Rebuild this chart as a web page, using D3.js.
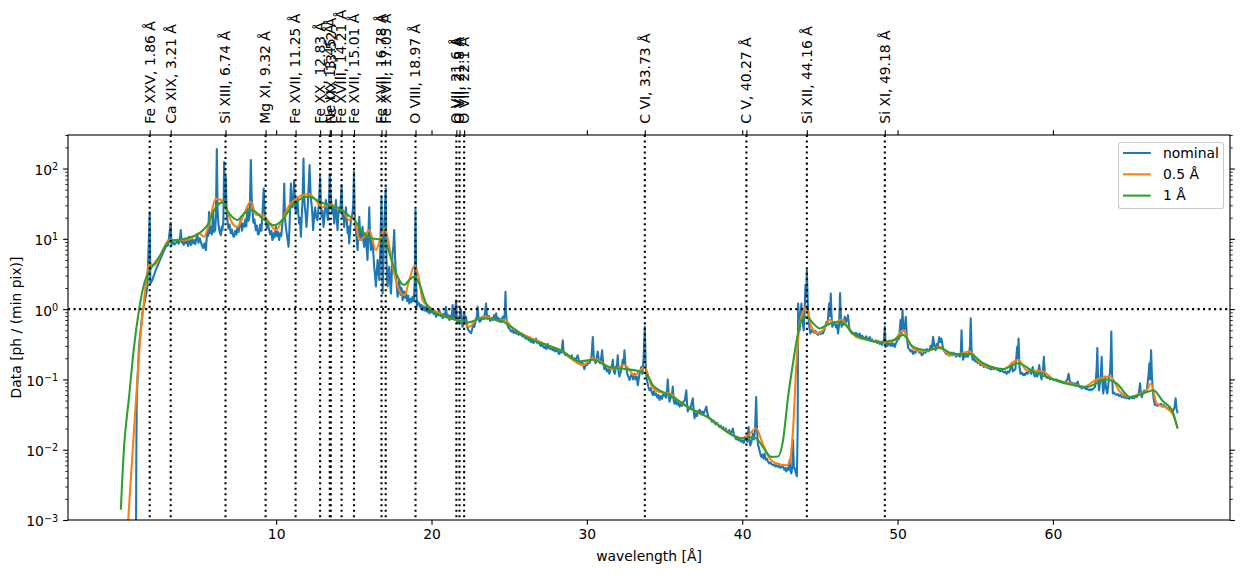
<!DOCTYPE html>
<html>
<head>
<meta charset="utf-8">
<script src="https://cdn.jsdelivr.net/npm/d3@7"></script>
<style>
    body { margin: 0; background: #fff; }
    svg text { font-family: "DejaVu Sans", sans-serif; fill: #000; }
</style>
</head>
<body>
<div id="chart"></div>
<script>
// Spectrum at nominal resolution: [wavelength (Å), counts]
const nominal = [
    [0.98, 0.0008], [1.00, 0.01], [1.03, 0.056], [1.17, 0.29], [1.39, 0.87], [1.60, 1.5], [1.71, 2.1], [1.86, 24], [1.90, 2.3], [2.03, 2.6],
    [2.25, 3.6], [2.57, 5.3], [2.89, 7.7], [3.05, 8.2], [3.21, 17], [3.26, 8.1], [3.35, 9.0], [3.45, 8.3], [3.54, 8.7], [3.63, 9.4],
    [3.72, 8.5], [3.80, 9.8], [3.86, 13.3], [3.92, 8.9], [3.96, 9.1], [4.05, 8.2], [4.12, 9.5], [4.18, 8.7], [4.27, 9.3], [4.33, 7.9],
    [4.39, 10.7], [4.45, 9.0], [4.50, 8.1], [4.58, 9.9], [4.65, 8.6], [4.72, 9.6], [4.80, 8.4], [4.87, 10.5], [4.93, 11.3], [5.00, 8.8],
    [5.08, 10.2], [5.15, 9.1], [5.22, 8.0], [5.30, 7.4], [5.38, 8.6], [5.47, 6.9], [5.52, 9.5], [5.57, 13.3], [5.62, 11], [5.68, 24],
    [5.74, 12], [5.79, 14.7], [5.86, 11.5], [5.94, 24], [6.00, 12.5], [6.07, 13.3], [6.12, 20], [6.18, 190], [6.23, 25], [6.28, 16.5],
    [6.36, 12.5], [6.44, 11.3], [6.50, 15], [6.54, 13.3], [6.60, 18], [6.65, 124], [6.71, 35], [6.76, 76], [6.81, 25], [6.86, 18.5],
    [6.93, 14], [7.00, 16], [7.08, 12], [7.15, 13.5], [7.22, 11], [7.29, 10.7], [7.36, 13], [7.44, 11.5], [7.51, 14.8], [7.58, 12.5],
    [7.65, 16], [7.72, 18.5], [7.80, 13], [7.87, 16.5], [7.94, 14.8], [8.02, 19], [8.08, 15], [8.15, 28], [8.22, 18], [8.30, 22],
    [8.37, 132], [8.42, 40], [8.47, 28], [8.53, 17], [8.60, 19], [8.69, 13.3], [8.76, 15.5], [8.83, 11.5], [8.90, 12], [8.97, 16],
    [9.05, 13], [9.12, 23], [9.20, 52], [9.27, 22], [9.34, 18.5], [9.40, 14], [9.48, 16], [9.55, 13.3], [9.62, 11.5], [9.69, 13],
    [9.76, 9.6], [9.83, 12], [9.90, 10.5], [9.98, 14.8], [10.05, 11], [10.12, 12.5], [10.19, 9.6], [10.26, 12], [10.33, 11], [10.40, 16.5],
    [10.46, 20], [10.52, 61], [10.57, 20], [10.62, 14.8], [10.70, 11], [10.76, 9], [10.80, 7.7], [10.86, 15], [10.95, 61], [11.00, 30],
    [11.05, 28], [11.10, 35], [11.16, 68], [11.22, 30], [11.27, 23], [11.32, 28], [11.37, 37], [11.43, 22], [11.48, 16.5], [11.53, 20],
    [11.59, 10.7], [11.65, 22], [11.70, 35.5], [11.76, 139], [11.80, 40], [11.85, 28], [11.90, 22], [11.95, 14.8], [12.02, 25], [12.08, 49],
    [12.15, 112], [12.22, 40], [12.30, 28], [12.34, 20], [12.38, 13.3], [12.45, 22], [12.51, 28], [12.58, 20], [12.66, 18.5], [12.74, 30],
    [12.83, 76], [12.88, 30], [12.92, 20.5], [12.98, 25], [13.05, 14.8], [13.12, 22], [13.20, 35.5], [13.27, 24], [13.33, 18.5], [13.39, 28],
    [13.45, 80], [13.52, 40], [13.59, 23], [13.66, 28], [13.74, 16.5], [13.80, 24], [13.85, 35.5], [13.90, 20], [13.95, 13.3], [14.00, 22],
    [14.06, 28], [14.13, 24], [14.21, 58], [14.27, 20.5], [14.33, 24], [14.38, 14.8], [14.44, 20], [14.49, 28], [14.55, 18], [14.60, 12],
    [14.65, 15], [14.70, 8.6], [14.76, 13], [14.81, 18.5], [14.90, 22], [14.96, 30], [15.01, 90], [15.05, 25], [15.09, 16.5], [15.16, 11],
    [15.24, 6.9], [15.30, 12], [15.35, 20.5], [15.40, 12], [15.46, 9.6], [15.51, 12], [15.56, 14.8], [15.62, 9], [15.67, 7.7], [15.72, 10],
    [15.78, 12], [15.83, 7], [15.88, 5.0], [15.94, 12], [15.99, 28], [16.05, 10], [16.10, 6.9], [16.15, 8], [16.20, 9.6], [16.26, 6],
    [16.31, 4.0], [16.37, 3], [16.42, 2.1], [16.48, 3.5], [16.53, 5.0], [16.58, 3.5], [16.64, 2.6], [16.71, 8], [16.78, 40], [16.85, 1.67],
    [16.90, 4], [16.96, 16.5], [17.05, 52], [17.10, 5], [17.17, 2.1], [17.22, 3], [17.28, 4.0], [17.33, 2.5], [17.39, 1.67], [17.44, 3],
    [17.49, 6.2], [17.55, 8], [17.60, 13.3], [17.66, 5], [17.71, 3.2], [17.77, 2], [17.82, 1.5], [17.87, 2], [17.92, 2.6], [18.00, 1.6],
    [18.07, 2.0], [18.14, 1.34], [18.22, 1.8], [18.29, 1.45], [18.36, 1.67], [18.43, 1.3], [18.50, 1.55], [18.57, 1.2], [18.64, 1.4], [18.71, 1.25],
    [18.78, 1.5], [18.86, 1.3], [18.92, 2.5], [18.97, 25.6], [19.02, 2], [19.07, 1.08], [19.14, 1.25], [19.21, 1.2], [19.29, 1.05], [19.36, 1.15],
    [19.43, 0.97], [19.50, 1.1], [19.58, 0.95], [19.65, 1.08], [19.72, 0.92], [19.79, 1.0], [19.86, 0.87], [19.93, 1.0], [20.00, 0.9], [20.07, 0.97],
    [20.14, 0.85], [20.22, 0.92], [20.29, 0.78], [20.36, 0.9], [20.43, 0.82], [20.50, 0.97], [20.58, 0.8], [20.65, 0.86], [20.72, 0.74], [20.79, 0.85],
    [20.86, 0.78], [20.93, 1.08], [21.00, 0.76], [21.08, 0.82], [21.15, 0.70], [21.22, 0.8], [21.29, 0.72], [21.36, 1.14], [21.44, 0.72], [21.51, 0.8],
    [21.58, 1.34], [21.63, 0.75], [21.68, 0.63], [21.75, 0.72], [21.82, 0.8], [21.90, 0.97], [21.95, 0.65], [22.00, 0.56], [22.06, 0.7], [22.11, 0.9],
    [22.16, 0.65], [22.22, 0.78], [22.30, 0.55], [22.38, 0.5], [22.46, 0.48], [22.55, 0.45], [22.62, 0.52], [22.69, 0.6], [22.76, 0.56], [22.85, 0.7],
    [22.92, 0.8], [22.97, 1.08], [23.03, 0.72], [23.10, 0.66], [23.19, 0.70], [23.27, 0.78], [23.35, 0.72], [23.43, 0.85], [23.51, 1.2], [23.57, 0.8],
    [23.62, 0.74], [23.70, 0.8], [23.78, 0.68], [23.86, 0.75], [23.94, 0.70], [24.02, 0.82], [24.09, 0.7], [24.16, 0.87], [24.23, 0.68], [24.30, 0.75],
    [24.37, 0.66], [24.44, 0.72], [24.51, 0.65], [24.58, 0.78], [24.66, 0.7], [24.72, 0.9], [24.76, 1.76], [24.81, 0.8], [24.86, 0.63], [24.94, 0.55],
    [25.03, 0.52], [25.12, 0.48], [25.20, 0.5], [25.28, 0.46], [25.36, 0.49], [25.44, 0.45], [25.52, 0.47], [25.60, 0.43], [25.68, 0.46], [25.77, 0.43],
    [25.85, 0.41], [25.93, 0.43], [26.01, 0.39], [26.09, 0.38], [26.17, 0.4], [26.25, 0.36], [26.33, 0.37], [26.41, 0.34], [26.49, 0.36], [26.57, 0.33],
    [26.65, 0.35], [26.73, 0.38], [26.80, 0.33], [26.88, 0.35], [26.95, 0.32], [27.03, 0.3], [27.11, 0.32], [27.19, 0.29], [27.27, 0.28], [27.35, 0.3],
    [27.41, 0.27], [27.48, 0.32], [27.56, 0.28], [27.64, 0.27], [27.72, 0.28], [27.80, 0.26], [27.88, 0.27], [27.96, 0.25], [28.05, 0.26], [28.13, 0.25],
    [28.21, 0.23], [28.29, 0.25], [28.37, 0.24], [28.45, 0.36], [28.50, 0.25], [28.56, 0.23], [28.64, 0.22], [28.72, 0.23], [28.80, 0.21], [28.88, 0.21],
    [28.95, 0.2], [29.02, 0.22], [29.09, 0.19], [29.17, 0.2], [29.25, 0.19], [29.33, 0.2], [29.41, 0.22], [29.50, 0.18], [29.60, 0.17], [29.68, 0.18],
    [29.76, 0.16], [29.84, 0.14], [29.92, 0.165], [30.00, 0.16], [30.08, 0.17], [30.17, 0.17], [30.24, 0.19], [30.30, 0.21], [30.38, 0.40], [30.44, 0.22],
    [30.49, 0.19], [30.56, 0.17], [30.63, 0.2], [30.70, 0.25], [30.77, 0.18], [30.85, 0.17], [30.92, 0.2], [30.98, 0.26], [31.05, 0.17], [31.13, 0.14],
    [31.21, 0.15], [31.29, 0.13], [31.37, 0.14], [31.45, 0.12], [31.52, 0.14], [31.60, 0.15], [31.67, 0.19], [31.74, 0.13], [31.80, 0.12], [31.87, 0.15],
    [31.94, 0.16], [31.99, 0.22], [32.04, 0.13], [32.10, 0.11], [32.18, 0.13], [32.25, 0.15], [32.31, 0.19], [32.37, 0.17], [32.42, 0.26], [32.48, 0.16],
    [32.53, 0.15], [32.60, 0.12], [32.67, 0.11], [32.74, 0.098], [32.82, 0.11], [32.90, 0.12], [32.98, 0.1], [33.07, 0.12], [33.14, 0.1], [33.21, 0.11],
    [33.28, 0.083], [33.36, 0.11], [33.43, 0.13], [33.50, 0.15], [33.57, 0.12], [33.65, 0.2], [33.73, 0.56], [33.79, 0.15], [33.86, 0.098], [33.95, 0.08],
    [34.03, 0.07], [34.12, 0.075], [34.18, 0.065], [34.25, 0.06], [34.32, 0.068], [34.39, 0.06], [34.46, 0.063], [34.54, 0.055], [34.61, 0.06], [34.68, 0.051],
    [34.76, 0.058], [34.84, 0.053], [34.92, 0.062], [35.00, 0.06], [35.10, 0.055], [35.16, 0.07], [35.21, 0.10], [35.27, 0.06], [35.32, 0.048], [35.40, 0.055],
    [35.47, 0.06], [35.53, 0.079], [35.59, 0.05], [35.64, 0.045], [35.72, 0.05], [35.80, 0.044], [35.88, 0.047], [35.97, 0.041], [36.05, 0.045], [36.13, 0.042],
    [36.21, 0.048], [36.30, 0.05], [36.40, 0.07], [36.45, 0.045], [36.50, 0.035], [36.58, 0.04], [36.66, 0.038], [36.74, 0.045], [36.82, 0.054], [36.88, 0.035],
    [36.93, 0.028], [37.00, 0.033], [37.08, 0.03], [37.17, 0.035], [37.26, 0.037], [37.34, 0.032], [37.42, 0.035], [37.52, 0.033], [37.60, 0.036], [37.69, 0.041],
    [37.77, 0.032], [37.84, 0.029], [37.90, 0.028], [37.98, 0.027], [38.06, 0.025], [38.14, 0.026], [38.22, 0.024], [38.30, 0.023], [38.38, 0.024], [38.46, 0.022],
    [38.54, 0.021], [38.62, 0.022], [38.70, 0.02], [38.78, 0.021], [38.86, 0.019], [38.94, 0.02], [39.01, 0.018], [39.08, 0.018], [39.16, 0.019], [39.24, 0.017],
    [39.32, 0.018], [39.40, 0.02], [39.47, 0.016], [39.54, 0.015], [39.62, 0.014], [39.70, 0.015], [39.78, 0.0135], [39.86, 0.014], [39.94, 0.013], [40.02, 0.0135],
    [40.10, 0.0125], [40.18, 0.014], [40.26, 0.015], [40.33, 0.013], [40.41, 0.021], [40.46, 0.014], [40.52, 0.0115], [40.60, 0.013], [40.69, 0.017], [40.76, 0.014],
    [40.83, 0.02], [40.90, 0.056], [40.95, 0.02], [41.01, 0.012], [41.08, 0.0105], [41.15, 0.009], [41.23, 0.0079], [41.30, 0.0085], [41.37, 0.0075], [41.44, 0.0088],
    [41.51, 0.0072], [41.58, 0.0075], [41.66, 0.0068], [41.74, 0.0064], [41.82, 0.0066], [41.90, 0.0062], [41.98, 0.006], [42.06, 0.0062], [42.14, 0.0058], [42.22, 0.006],
    [42.30, 0.0057], [42.38, 0.0059], [42.46, 0.0055], [42.54, 0.0058], [42.63, 0.0057], [42.70, 0.0052], [42.77, 0.0055], [42.84, 0.0049], [42.92, 0.0055], [42.99, 0.0052],
    [43.05, 0.0071], [43.10, 0.0052], [43.16, 0.0046], [43.22, 0.0055], [43.27, 0.0137], [43.33, 0.0055], [43.38, 0.0055], [43.45, 0.0047], [43.52, 0.0042], [43.57, 0.02],
    [43.60, 1.2], [43.65, 0.8], [43.70, 0.50], [43.76, 0.8], [43.81, 1.2], [43.88, 0.7], [43.96, 0.5], [44.02, 1.0], [44.07, 2.2], [44.12, 1.5],
    [44.16, 3.6], [44.22, 1.2], [44.28, 0.7], [44.34, 0.52], [44.39, 0.45], [44.47, 0.5], [44.56, 0.48], [44.64, 0.46], [44.72, 0.49], [44.80, 0.45],
    [44.88, 0.43], [44.96, 0.47], [45.04, 0.44], [45.12, 0.48], [45.20, 0.45], [45.28, 0.5], [45.35, 0.56], [45.42, 0.66], [45.50, 0.6], [45.59, 1.2],
    [45.65, 0.8], [45.70, 1.67], [45.75, 0.8], [45.80, 0.56], [45.88, 0.62], [45.95, 0.66], [46.03, 0.55], [46.10, 0.6], [46.17, 0.45], [46.24, 0.6],
    [46.30, 1.7], [46.35, 0.8], [46.40, 0.56], [46.47, 0.65], [46.53, 0.6], [46.60, 0.78], [46.67, 0.65], [46.74, 0.7], [46.81, 0.82], [46.87, 0.6],
    [46.92, 0.50], [47.00, 0.47], [47.08, 0.45], [47.16, 0.46], [47.24, 0.43], [47.32, 0.46], [47.40, 0.44], [47.48, 0.42], [47.56, 0.45], [47.64, 0.4],
    [47.72, 0.42], [47.80, 0.39], [47.89, 0.38], [47.97, 0.41], [48.05, 0.38], [48.13, 0.37], [48.21, 0.40], [48.29, 0.36], [48.37, 0.37], [48.45, 0.35],
    [48.53, 0.34], [48.61, 0.36], [48.69, 0.33], [48.77, 0.35], [48.85, 0.32], [48.93, 0.34], [49.00, 0.31], [49.08, 0.34], [49.13, 0.38], [49.18, 0.56],
    [49.24, 0.29], [49.30, 0.33], [49.37, 0.3], [49.43, 0.34], [49.50, 0.32], [49.57, 0.3], [49.64, 0.33], [49.71, 0.3], [49.76, 0.32], [49.82, 0.29],
    [49.90, 0.33], [49.97, 0.35], [50.04, 0.40], [50.10, 0.38], [50.19, 0.70], [50.25, 0.45], [50.32, 0.97], [50.36, 0.6], [50.40, 0.50], [50.47, 0.55],
    [50.53, 0.78], [50.60, 0.4], [50.68, 0.28], [50.76, 0.27], [50.84, 0.25], [50.92, 0.26], [51.00, 0.23], [51.08, 0.25], [51.16, 0.24], [51.24, 0.27],
    [51.32, 0.26], [51.40, 0.24], [51.48, 0.25], [51.56, 0.22], [51.64, 0.23], [51.72, 0.25], [51.80, 0.24], [51.88, 0.27], [51.97, 0.25], [52.05, 0.26],
    [52.13, 0.3], [52.21, 0.28], [52.29, 0.40], [52.37, 0.3], [52.45, 0.26], [52.52, 0.32], [52.60, 0.3], [52.68, 0.40], [52.75, 0.34], [52.83, 0.38],
    [52.90, 0.3], [52.97, 0.26], [53.04, 0.25], [53.12, 0.23], [53.20, 0.24], [53.28, 0.22], [53.36, 0.22], [53.44, 0.24], [53.52, 0.22], [53.60, 0.24],
    [53.69, 0.23], [53.77, 0.21], [53.85, 0.23], [53.93, 0.22], [54.01, 0.21], [54.07, 0.24], [54.12, 0.50], [54.17, 0.23], [54.22, 0.19], [54.30, 0.22],
    [54.37, 0.21], [54.44, 0.23], [54.52, 0.21], [54.60, 0.23], [54.66, 0.3], [54.71, 0.74], [54.77, 0.25], [54.83, 0.19], [54.91, 0.2], [55.00, 0.18],
    [55.08, 0.19], [55.16, 0.17], [55.24, 0.18], [55.32, 0.16], [55.40, 0.16], [55.48, 0.165], [55.56, 0.15], [55.64, 0.16], [55.73, 0.15], [55.81, 0.145],
    [55.89, 0.15], [55.97, 0.14], [56.05, 0.14], [56.13, 0.15], [56.21, 0.14], [56.29, 0.145], [56.37, 0.14], [56.45, 0.135], [56.53, 0.14], [56.61, 0.13],
    [56.70, 0.135], [56.78, 0.13], [56.86, 0.125], [56.94, 0.13], [57.02, 0.12], [57.10, 0.13], [57.18, 0.125], [57.26, 0.14], [57.34, 0.17], [57.42, 0.13],
    [57.50, 0.135], [57.58, 0.14], [57.64, 0.2], [57.70, 0.29], [57.74, 0.2], [57.79, 0.38], [57.85, 0.15], [57.92, 0.12], [58.00, 0.125], [58.08, 0.115],
    [58.14, 0.12], [58.20, 0.115], [58.28, 0.125], [58.36, 0.12], [58.44, 0.13], [58.52, 0.135], [58.60, 0.12], [58.70, 0.15], [58.77, 0.12], [58.84, 0.11],
    [58.92, 0.12], [59.00, 0.11], [59.06, 0.13], [59.12, 0.16], [59.20, 0.12], [59.27, 0.10], [59.35, 0.13], [59.42, 0.21], [59.48, 0.12], [59.55, 0.11],
    [59.63, 0.105], [59.72, 0.11], [59.81, 0.10], [59.89, 0.105], [59.97, 0.1], [60.05, 0.1], [60.13, 0.098], [60.21, 0.1], [60.29, 0.095], [60.37, 0.097],
    [60.45, 0.093], [60.53, 0.095], [60.61, 0.09], [60.69, 0.092], [60.77, 0.088], [60.85, 0.095], [60.93, 0.1], [61.01, 0.12], [61.08, 0.095], [61.15, 0.088],
    [61.22, 0.09], [61.30, 0.085], [61.36, 0.088], [61.42, 0.083], [61.50, 0.087], [61.56, 0.09], [61.60, 0.093], [61.66, 0.082], [61.74, 0.078], [61.80, 0.08],
    [61.85, 0.074], [61.92, 0.079], [62.00, 0.076], [62.05, 0.078], [62.12, 0.073], [62.20, 0.075], [62.28, 0.071], [62.38, 0.07], [62.46, 0.073], [62.54, 0.071],
    [62.62, 0.075], [62.71, 0.078], [62.77, 0.1], [62.82, 0.15], [62.86, 0.28], [62.91, 0.1], [62.97, 0.07], [63.03, 0.09], [63.09, 0.12], [63.14, 0.21],
    [63.19, 0.09], [63.24, 0.063], [63.30, 0.08], [63.35, 0.11], [63.42, 0.075], [63.50, 0.063], [63.56, 0.08], [63.61, 0.11], [63.67, 0.12], [63.72, 0.2],
    [63.76, 0.48], [63.81, 0.12], [63.86, 0.063], [63.93, 0.065], [64.01, 0.062], [64.10, 0.06], [64.18, 0.062], [64.26, 0.058], [64.34, 0.06], [64.43, 0.056],
    [64.51, 0.057], [64.59, 0.055], [64.67, 0.056], [64.75, 0.054], [64.83, 0.056], [64.91, 0.053], [64.99, 0.055], [65.07, 0.054], [65.15, 0.056], [65.23, 0.054],
    [65.31, 0.058], [65.39, 0.056], [65.47, 0.06], [65.54, 0.065], [65.61, 0.088], [65.66, 0.065], [65.72, 0.056], [65.80, 0.065], [65.88, 0.07], [65.96, 0.065],
    [66.04, 0.07], [66.10, 0.09], [66.16, 0.12], [66.21, 0.17], [66.26, 0.1], [66.32, 0.26], [66.37, 0.12], [66.43, 0.07], [66.50, 0.05], [66.57, 0.043],
    [66.65, 0.045], [66.73, 0.042], [66.81, 0.044], [66.89, 0.043], [66.97, 0.045], [67.05, 0.041], [67.13, 0.043], [67.22, 0.041], [67.30, 0.04], [67.38, 0.038],
    [67.46, 0.039], [67.54, 0.037], [67.62, 0.038], [67.68, 0.035], [67.75, 0.036], [67.83, 0.04], [67.90, 0.054], [67.96, 0.038], [68.03, 0.033]
];

// Smoothed with 0.5 Å kernel
const halfWl = [0.45, 0.64, 0.85, 1.06, 1.28, 1.50, 1.70, 1.86, 2.00, 2.14, 2.57, 3.10, 3.64, 4.39, 5.04, 5.36, 5.68, 6.11, 6.44, 6.76,
    7.19, 7.51, 7.94, 8.37, 8.69, 9.12, 9.44, 9.98, 10.40, 10.84, 11.27, 11.60, 12.13, 12.56, 12.98, 13.41, 13.85, 14.27, 14.70, 15.03,
    15.35, 15.67, 15.99, 16.42, 16.75, 17.00, 17.28, 17.60, 17.92, 18.25, 18.57, 18.92, 19.21, 19.43, 19.86, 20.29, 20.93, 21.58, 22.00, 22.44,
    22.87, 23.08, 23.51, 24.16, 24.76, 25.12, 25.87, 26.73, 27.59, 28.45, 29.09, 29.74, 30.38, 31.02, 31.67, 32.42, 33.07, 33.73, 34.14, 34.68,
    35.32, 35.97, 36.61, 37.26, 37.90, 38.76, 39.40, 39.94, 40.37, 40.90, 41.33, 41.77, 42.20, 42.84, 43.05, 43.27, 43.49, 43.65, 43.91, 44.13,
    44.45, 44.88, 45.20, 45.63, 45.95, 46.38, 46.81, 47.35, 48.21, 49.07, 49.71, 50.36, 50.79, 51.43, 52.07, 52.72, 53.36, 54.01, 54.65, 55.30,
    56.15, 56.80, 57.77, 58.31, 59.37, 60.02, 61.10, 61.95, 62.82, 63.68, 64.33, 64.97, 65.61, 66.04, 66.32, 66.69, 67.33, 67.75, 68.03];
const halfVal = [0.0008, 0.0037, 0.019, 0.098, 0.45, 1.34, 3.3, 4.6, 4.3, 4.2, 5.9, 9.6, 9.6, 9.8, 12, 10.7, 16.5, 37, 36, 28,
    16.5, 14.8, 23, 34, 22, 22, 18.5, 13.3, 18.5, 30, 37, 41, 43, 35.5, 28, 32, 28, 25.6, 18.5, 20.5,
    9.6, 10.7, 13.3, 6.9, 10.7, 14, 7.7, 3.2, 1.86, 1.58, 2.6, 4.2, 2.6, 1.34, 1.08, 0.92, 0.78, 0.70, 0.66, 0.56,
    0.70, 0.74, 0.78, 0.70, 0.70, 0.56, 0.44, 0.36, 0.30, 0.25, 0.19, 0.16, 0.20, 0.17, 0.14, 0.16, 0.115, 0.15, 0.083, 0.066,
    0.063, 0.048, 0.039, 0.033, 0.028, 0.020, 0.016, 0.0145, 0.016, 0.020, 0.012, 0.0075, 0.0064, 0.0060, 0.0067, 0.019, 0.17, 0.5, 0.92, 1.1,
    0.56, 0.45, 0.50, 0.70, 0.64, 0.71, 0.56, 0.40, 0.36, 0.34, 0.35, 0.50, 0.32, 0.25, 0.26, 0.29, 0.22, 0.23, 0.25, 0.17,
    0.146, 0.14, 0.19, 0.135, 0.13, 0.10, 0.088, 0.078, 0.10, 0.11, 0.066, 0.056, 0.063, 0.07, 0.088, 0.045, 0.039, 0.031, 0.020];

// Smoothed with 1 Å kernel
const oneWl = [0.00, 0.21, 0.53, 0.85, 1.17, 1.50, 1.82, 2.46, 3.10, 4.18, 5.04, 5.57, 6.11, 6.54, 6.97, 7.51, 7.94, 8.47, 9.12, 9.87,
    10.40, 11.05, 11.48, 12.13, 12.77, 13.41, 14.06, 14.60, 15.03, 15.56, 16.20, 16.75, 17.07, 17.49, 17.92, 18.25, 18.57, 18.89, 19.21, 19.65,
    20.29, 20.93, 21.58, 22.22, 22.87, 23.08, 24.37, 25.12, 26.09, 27.59, 28.45, 29.52, 30.38, 31.45, 32.53, 33.39, 33.82, 34.25, 35.32, 36.82,
    37.90, 39.19, 39.94, 40.58, 40.90, 41.33, 41.87, 42.30, 42.63, 42.95, 43.27, 43.59, 43.81, 44.13, 44.56, 44.99, 45.42, 45.95, 46.49, 47.13,
    47.99, 48.85, 49.71, 50.36, 51.00, 51.86, 52.72, 53.58, 54.65, 55.51, 56.80, 57.77, 58.73, 60.02, 61.31, 62.17, 63.46, 64.10, 64.97, 66.04,
    66.47, 67.11, 67.65, 68.03];
const oneVal = [0.0014, 0.011, 0.056, 0.29, 0.97, 2.3, 3.4, 5.5, 9.1, 10.1, 12, 15.6, 28, 33, 23, 18.5, 23, 25.6, 19.5, 15.6,
    18.5, 30, 36, 40, 34, 30, 27, 22, 18.5, 12.6, 10.1, 9.8, 8.6, 4.5, 2.6, 2.2, 2.6, 2.9, 2.3, 1.2,
    0.87, 0.78, 0.70, 0.64, 0.70, 0.74, 0.70, 0.56, 0.40, 0.30, 0.25, 0.18, 0.19, 0.15, 0.14, 0.13, 0.12, 0.083, 0.06, 0.037,
    0.028, 0.017, 0.0145, 0.015, 0.0145, 0.011, 0.0079, 0.0080, 0.0137, 0.056, 0.17, 0.45, 0.70, 0.78, 0.63, 0.53, 0.59, 0.65, 0.63, 0.45,
    0.37, 0.34, 0.36, 0.43, 0.29, 0.26, 0.28, 0.23, 0.23, 0.17, 0.14, 0.17, 0.13, 0.10, 0.083, 0.078, 0.10, 0.088, 0.056, 0.066,
    0.07, 0.048, 0.037, 0.020];

// Line identifications
const ionNames = ["Fe XXV", "Ca XIX", "Si XIII", "Mg XI", "Fe XVII", "Fe XX", "Ne IX", "Fe XIX", "Fe XVIII", "Fe XVII",
    "Fe XVII", "Fe XVII", "O VIII", "O VII", "O VII", "O VII", "C VI", "C V", "Si XII", "Si XI"];
const ionWl = [1.86, 3.21, 6.74, 9.32, 11.25, 12.83, 13.45, 13.52, 14.21, 15.01,
    16.78, 17.05, 18.97, 21.6, 21.8, 22.1, 33.73, 40.27, 44.16, 49.18];

const seriesNames = ["nominal", "0.5 Å", "1 Å"];
const xTicks = [10, 20, 30, 40, 50, 60];
const yTicks = [1e-3, 1e-2, 1e-1, 1, 10, 100];
const yExponents = ["\u22123", "\u22122", "\u22121", "0", "1", "2"];

function draw() {
    const dims = { width: 1240, height: 575, left: 68, right: 1230, top: 135, bottom: 520 };
    const majorLen = 4.86, minorLen = 2.78;

    const svg = d3.select("#chart")
        .append("svg")
        .attr("width", dims.width)
        .attr("height", dims.height);

    const xScale = d3.scaleLinear().domain([-3.4, 71.4]).range([dims.left, dims.right]);
    const yScale = d3.scaleLog().domain([1e-3, 300]).range([dims.bottom, dims.top]);

    svg.append("defs").append("clipPath").attr("id", "plot-area")
        .append("rect")
        .attr("x", dims.left).attr("y", dims.top)
        .attr("width", dims.right - dims.left)
        .attr("height", dims.bottom - dims.top);

    // minor ticks for the log axis
    const yMinor = [];
    for (let e = -3; e <= 2; e++) {
        for (let k = 2; k <= 9; k++) {
            const v = k * Math.pow(10, e);
            if (v <= 300) yMinor.push(v);
        }
    }

    // spectra
    const series = [
        { pts: nominal, color: "#1f77b4", curve: d3.curveLinear },
        { pts: halfWl.map((w, i) => [w, halfVal[i]]), color: "#ff7f0e", curve: d3.curveMonotoneX },
        { pts: oneWl.map((w, i) => [w, oneVal[i]]), color: "#2ca02c", curve: d3.curveMonotoneX }
    ];

    const plot = svg.append("g").attr("clip-path", "url(#plot-area)");

    series.forEach(s => {
        const line = d3.line()
            .x(d => xScale(d[0]))
            .y(d => yScale(d[1]))
            .curve(s.curve);
        plot.append("path")
            .datum(s.pts)
            .attr("d", line)
            .attr("fill", "none")
            .attr("stroke", s.color)
            .attr("stroke-width", 2.08)
            .attr("stroke-linejoin", "round")
            .attr("stroke-linecap", "butt");
    });

    // dotted markers
    plot.selectAll(".ion-line")
        .data(ionWl)
        .join("line")
        .attr("class", "ion-line")
        .attr("x1", d => xScale(d)).attr("x2", d => xScale(d))
        .attr("y1", dims.top).attr("y2", dims.bottom)
        .attr("stroke", "#000")
        .attr("stroke-width", 2.08)
        .attr("stroke-dasharray", "2.08,3.43");

    plot.append("line")
        .attr("x1", dims.left).attr("x2", dims.right)
        .attr("y1", yScale(1)).attr("y2", yScale(1))
        .attr("stroke", "#000")
        .attr("stroke-width", 2.08)
        .attr("stroke-dasharray", "2.08,3.43");

    // axes
    function styleAxis(g, w) {
        g.select(".domain").remove();
        g.selectAll(".tick line").attr("stroke", "#000").attr("stroke-width", w);
    }

    svg.append("g")
        .attr("transform", `translate(0,${dims.bottom})`)
        .call(d3.axisBottom(xScale).tickValues(xTicks).tickSize(majorLen).tickPadding(4.5))
        .call(g => styleAxis(g, 1.1))
        .call(g => g.selectAll("text").attr("font-size", "13.9px").attr("font-family", "DejaVu Sans"));

    svg.append("g")
        .attr("transform", `translate(0,${dims.top})`)
        .call(d3.axisTop(xScale).tickValues(xTicks.concat(ionWl)).tickSize(majorLen).tickFormat(""))
        .call(g => styleAxis(g, 1.1));

    [[dims.left, d3.axisLeft], [dims.right, d3.axisRight]].forEach(([xPos, axisFn]) => {
        svg.append("g")
            .attr("transform", `translate(${xPos},0)`)
            .call(axisFn(yScale).tickValues(yTicks).tickSize(majorLen).tickFormat(""))
            .call(g => styleAxis(g, 1.1));
        svg.append("g")
            .attr("transform", `translate(${xPos},0)`)
            .call(axisFn(yScale).tickValues(yMinor).tickSize(minorLen).tickFormat(""))
            .call(g => styleAxis(g, 0.83));
    });

    // y tick labels with superscripts
    const yLabels = svg.append("g")
        .selectAll("text")
        .data(yTicks)
        .join("text")
        .attr("x", dims.left - majorLen - 4.9)
        .attr("y", d => yScale(d) + 6.4)
        .attr("text-anchor", "end")
        .attr("font-size", "13.9px");
    yLabels.append("tspan").text("10");
    yLabels.append("tspan")
        .attr("dy", "-0.5em")
        .attr("font-size", "9.7px")
        .text((d, i) => yExponents[i]);

    // frame
    svg.append("rect")
        .attr("x", dims.left).attr("y", dims.top)
        .attr("width", dims.right - dims.left)
        .attr("height", dims.bottom - dims.top)
        .attr("fill", "none")
        .attr("stroke", "#000")
        .attr("stroke-width", 1.1);

    // line labels along the top
    svg.append("g")
        .selectAll("text")
        .data(ionWl)
        .join("text")
        .attr("transform", d => `translate(${xScale(d)},${dims.top - majorLen - 6.5}) rotate(-90)`)
        .attr("dy", "0.35em")
        .attr("font-size", "13.9px")
        .text((d, i) => `${ionNames[i]}, ${d} Å`);

    // axis titles
    svg.append("text")
        .attr("x", (dims.left + dims.right) / 2)
        .attr("y", 561)
        .attr("text-anchor", "middle")
        .attr("font-size", "13.9px")
        .text("wavelength [Å]");

    svg.append("text")
        .attr("transform", `translate(16,${(dims.top + dims.bottom) / 2}) rotate(-90)`)
        .attr("dy", "0.35em")
        .attr("text-anchor", "middle")
        .attr("font-size", "13.9px")
        .text("Data [ph / (min pix)]");

    // legend
    const legend = svg.append("g");
    legend.append("rect")
        .attr("x", 1118.5).attr("y", 142.5)
        .attr("width", 105).attr("height", 66)
        .attr("rx", 2.8)
        .attr("fill", "#fff")
        .attr("fill-opacity", 0.8)
        .attr("stroke", "#cccccc")
        .attr("stroke-width", 1.1);
    const rows = legend.selectAll(".row")
        .data(seriesNames)
        .join("g")
        .attr("class", "row")
        .attr("transform", (d, i) => `translate(1123,${153 + i * 21.3})`);
    rows.append("line")
        .attr("x1", 0).attr("x2", 27.8)
        .attr("stroke", (d, i) => series[i].color)
        .attr("stroke-width", 2.08);
    rows.append("text")
        .attr("x", 40)
        .attr("dy", "0.35em")
        .attr("font-size", "13.9px")
        .text(d => d);
}

draw();
</script>
</body>
</html>
